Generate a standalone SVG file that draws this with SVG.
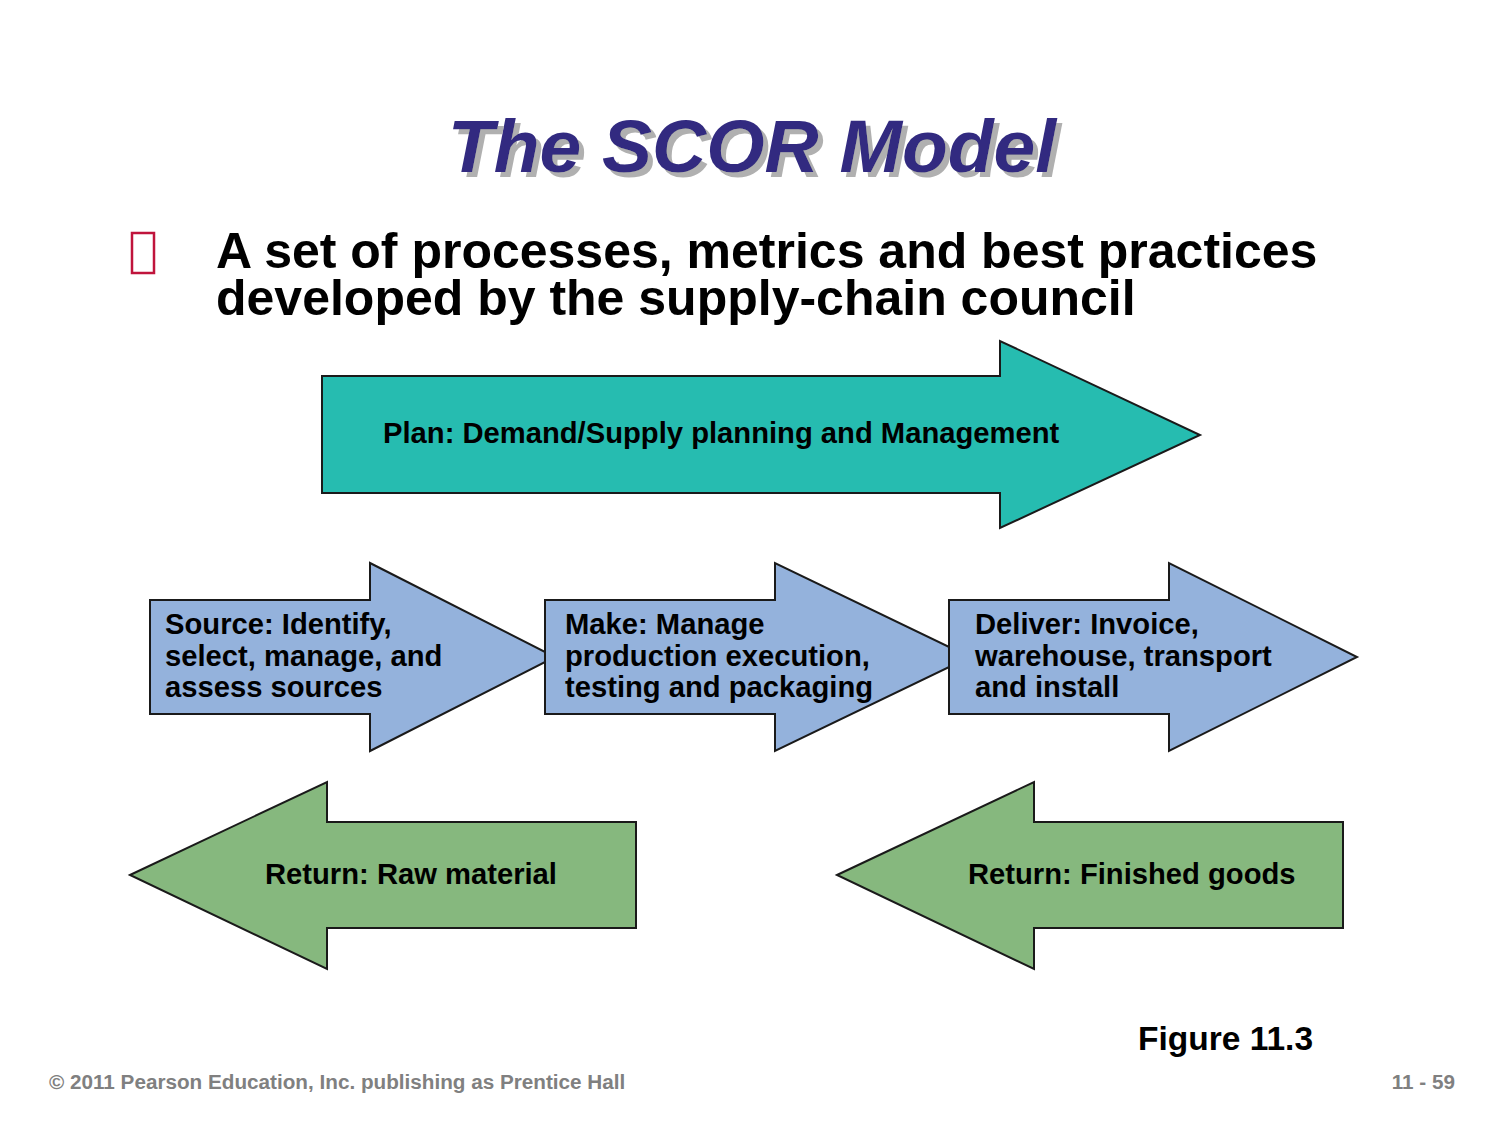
<svg xmlns="http://www.w3.org/2000/svg" width="1500" height="1125" viewBox="0 0 1500 1125">
<defs>
<filter id="shadow" x="-5%" y="-20%" width="115%" height="150%">
<feOffset in="SourceAlpha" dx="5" dy="5" result="off"/>
<feFlood flood-color="#b0b0b0"/>
<feComposite in2="off" operator="in" result="sh"/>
<feMerge><feMergeNode in="sh"/><feMergeNode in="SourceGraphic"/></feMerge>
</filter>
</defs>
<style>
.arrow{stroke:#1a1a1a;stroke-width:2;stroke-linejoin:miter}
.plan{fill:#26bcb0}
.flow{fill:#94b2dc}
.ret{fill:#86b87e}
.lbl{font-family:"Liberation Sans",Arial,sans-serif;font-weight:bold;font-size:29.2px;fill:#000}
.head{font-family:"Liberation Sans",Arial,sans-serif;font-weight:bold;font-size:50px;fill:#000}
.foot{font-family:"Liberation Sans",Arial,sans-serif;font-weight:bold;font-size:20.7px;fill:#808080}
.title{font-family:"Liberation Sans",Arial,sans-serif;font-weight:bold;font-style:italic;font-size:75px}
</style>
<rect width="1500" height="1125" fill="#ffffff"/>
<g id="title">
<text class="title" x="752" y="172" text-anchor="middle" fill="#332c80" filter="url(#shadow)">The SCOR Model</text>
</g>
<g id="bullet">
<rect x="132" y="233" width="22" height="40" fill="none" stroke="#c0143c" stroke-width="2.5"/>
<text class="head"><tspan x="216" y="268">A set of processes, metrics and best practices</tspan><tspan x="216" y="315">developed by the supply-chain council</tspan></text>
</g>
<g id="plan">
<polygon class="arrow plan" points="322,376 1000,376 1000,341 1200,435 1000,528 1000,493 322,493"/>
<text class="lbl" x="383" y="443">Plan: Demand/Supply planning and Management</text>
</g>
<g id="source">
<polygon class="arrow flow" points="150,600 370,600 370,563 555,657 370,751 370,714 150,714"/>
<text class="lbl"><tspan x="165" y="634">Source: Identify,</tspan><tspan x="165" y="666">select, manage, and</tspan><tspan x="165" y="697">assess sources</tspan></text>
</g>
<g id="make">
<polygon class="arrow flow" points="545,600 775,600 775,563 970,657 775,751 775,714 545,714"/>
<text class="lbl"><tspan x="565" y="634">Make: Manage</tspan><tspan x="565" y="666">production execution,</tspan><tspan x="565" y="697">testing and packaging</tspan></text>
</g>
<g id="deliver">
<polygon class="arrow flow" points="949,600 1169,600 1169,563 1357,657 1169,751 1169,714 949,714"/>
<text class="lbl"><tspan x="975" y="634">Deliver: Invoice,</tspan><tspan x="975" y="666">warehouse, transport</tspan><tspan x="975" y="697">and install</tspan></text>
</g>
<g id="return-raw">
<polygon class="arrow ret" points="130,875 327,782 327,822 636,822 636,928 327,928 327,969"/>
<text class="lbl" x="265" y="884">Return: Raw material</text>
</g>
<g id="return-finished">
<polygon class="arrow ret" points="837,875 1034,782 1034,822 1343,822 1343,928 1034,928 1034,969"/>
<text class="lbl" x="968" y="884">Return: Finished goods</text>
</g>
<g id="connectors"></g>
<g id="footer">
<text x="1138" y="1050" font-family="Liberation Sans, Arial, sans-serif" font-weight="bold" font-size="33.5" fill="#000">Figure 11.3</text>
<text class="foot" x="49" y="1089">© 2011 Pearson Education, Inc. publishing as Prentice Hall</text>
<text class="foot" x="1455" y="1089" text-anchor="end">11 - 59</text>
</g>
</svg>
